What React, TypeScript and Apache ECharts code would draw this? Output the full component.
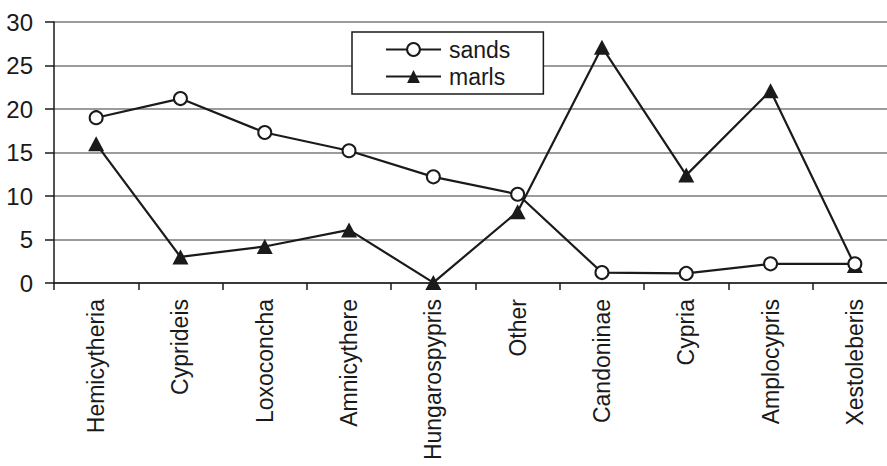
import React, { useEffect, useRef } from "react";
import * as echarts from "echarts";

const categories = [
  "Hemicytheria",
  "Cyprideis",
  "Loxoconcha",
  "Amnicythere",
  "Hungarospypris",
  "Other",
  "Candoninae",
  "Cypria",
  "Amplocypris",
  "Xestoleberis",
];
const sands = [19, 21.2, 17.3, 15.2, 12.2, 10.2, 1.2, 1.1, 2.2, 2.2];
const marls = [16, 3.0, 4.2, 6.1, 0.05, 8.2, 27.1, 12.4, 22.1, 2.0];
const yTicks = { min: 0, max: 30, interval: 5 };

const FONT = "'Liberation Sans', Arial, sans-serif";
const INK = "#1a1a1a";

export default function App() {
  const ref = useRef<HTMLDivElement>(null);
  useEffect(() => {
    if (!ref.current) return;
    const chart = echarts.init(ref.current, null, { renderer: "svg" });
    chart.setOption({
      animation: false,
      backgroundColor: "#ffffff",
      textStyle: { fontFamily: FONT },
      grid: {
        left: 54,
        top: 22,
        bottom: 183,
        right: -10,
        containLabel: false,
        outerBoundsMode: "none",
      },
      legend: {
        data: ["sands", "marls"],
        orient: "vertical",
        left: 352,
        top: 32,
        padding: [6, 33, 6, 33],
        itemWidth: 55,
        itemHeight: 16,
        itemGap: 4,
        backgroundColor: "#ffffff",
        borderColor: INK,
        borderWidth: 1.5,
        borderRadius: 0,
        textStyle: {
          fontFamily: FONT,
          fontSize: 23,
          lineHeight: 23,
          color: INK,
          padding: [0, 0, 0, 3],
        },
      },
      xAxis: {
        type: "category",
        data: categories,
        boundaryGap: true,
        axisLine: { show: true, lineStyle: { color: INK, width: 1.5 } },
        axisTick: { show: true, length: 7, lineStyle: { color: INK, width: 1.5 } },
        axisLabel: {
          rotate: 90,
          interval: 0,
          margin: 16,
          fontSize: 23,
          fontFamily: FONT,
          color: INK,
        },
        splitLine: { show: false },
      },
      yAxis: {
        type: "value",
        min: yTicks.min,
        max: yTicks.max,
        interval: yTicks.interval,
        axisLine: { show: true, lineStyle: { color: INK, width: 1.5 } },
        axisTick: { show: true, length: 9, lineStyle: { color: INK, width: 1.5 } },
        axisLabel: { margin: 21, fontSize: 24, fontFamily: FONT, color: INK },
        splitLine: { show: true, lineStyle: { color: "#7a7a7a", width: 1.5 } },
      },
      series: [
        {
          name: "marls",
          type: "line",
          data: marls,
          symbol: "triangle",
          symbolSize: [16, 15],
          lineStyle: { color: INK, width: 2.2 },
          itemStyle: { color: INK, borderColor: INK, borderWidth: 0 },
          z: 3,
        },
        {
          name: "sands",
          type: "line",
          data: sands,
          symbol: "circle",
          symbolSize: 13,
          showAllSymbol: true,
          lineStyle: { color: INK, width: 2.2 },
          itemStyle: { color: "#ffffff", borderColor: INK, borderWidth: 2 },
          z: 4,
        },
      ],
    });
    return () => chart.dispose();
  }, []);
  return (
    <div
      ref={ref}
      style={{ position: "fixed", left: 0, top: 0, width: 887, height: 466 }}
    />
  );
}
